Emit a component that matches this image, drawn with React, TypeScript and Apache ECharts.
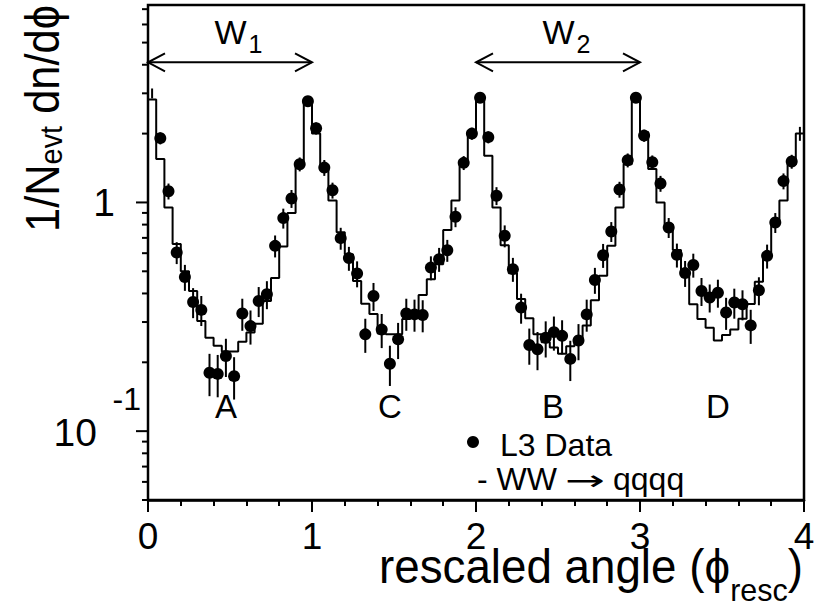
import React, { useEffect, useRef } from "react";
import * as echarts from "echarts";

const FONT = "'Liberation Sans', Arial, Helvetica, sans-serif";
const ARROW_FONT = "'DejaVu Sans', sans-serif";

// histogram binning of the rescaled angle (0..4, 80 bins)
const BIN_WIDTH = 0.05;

// MC prediction WW -> qqqq (histogram level per bin)
const mcValues = [
  2.82, 1.55, 0.95, 0.658, 0.5, 0.41, 0.303, 0.256, 0.236, 0.223,
  0.223, 0.246, 0.27, 0.295, 0.371, 0.467, 0.642, 0.9, 1.47, 2.82,
  2.0, 1.43, 1.02, 0.74, 0.594, 0.454, 0.361, 0.325, 0.267, 0.265,
  0.265, 0.309, 0.33, 0.394, 0.462, 0.537, 0.757, 1.02, 1.47, 2.0,
  2.82, 1.6, 0.95, 0.65, 0.49, 0.378, 0.312, 0.265, 0.245, 0.232,
  0.218, 0.235, 0.252, 0.29, 0.374, 0.478, 0.647, 0.95, 1.47, 2.82,
  2.03, 1.4, 1.0, 0.8, 0.62, 0.48, 0.359, 0.309, 0.283, 0.249,
  0.263, 0.278, 0.31, 0.36, 0.45, 0.58, 0.82, 1.02, 1.47, 2.0,
];

// L3 data per bin
const dataValues = [
  3.0, 1.91, 1.12, 0.604, 0.472, 0.367, 0.339, 0.18, 0.178, 0.213,
  0.174, 0.327, 0.288, 0.371, 0.397, 0.646, 0.854, 1.04, 1.47, 2.77,
  2.11, 1.42, 1.13, 0.698, 0.571, 0.489, 0.265, 0.39, 0.278, 0.197,
  0.252, 0.327, 0.324, 0.322, 0.519, 0.565, 0.618, 0.866, 1.49, 2.0,
  2.87, 1.93, 1.07, 0.715, 0.511, 0.347, 0.238, 0.228, 0.256, 0.271,
  0.261, 0.207, 0.249, 0.324, 0.458, 0.588, 0.746, 1.14, 1.53, 2.87,
  1.96, 1.5, 1.21, 0.777, 0.59, 0.491, 0.533, 0.41, 0.384, 0.403,
  0.33, 0.365, 0.359, 0.29, 0.413, 0.584, 0.817, 1.24, 1.51, 2.0,
];

// relative statistical errors of the data points
const relErrors = [
  0.05, 0.06, 0.08, 0.11, 0.13, 0.15, 0.15, 0.21, 0.21, 0.19,
  0.21, 0.16, 0.17, 0.15, 0.14, 0.11, 0.1, 0.09, 0.07, 0.05,
  0.06, 0.08, 0.08, 0.11, 0.12, 0.13, 0.17, 0.14, 0.17, 0.2,
  0.18, 0.16, 0.16, 0.16, 0.12, 0.12, 0.11, 0.1, 0.07, 0.06,
  0.05, 0.06, 0.09, 0.11, 0.12, 0.15, 0.18, 0.19, 0.18, 0.17,
  0.17, 0.2, 0.18, 0.16, 0.13, 0.12, 0.1, 0.08, 0.07, 0.05,
  0.06, 0.07, 0.08, 0.1, 0.12, 0.13, 0.12, 0.14, 0.14, 0.14,
  0.16, 0.15, 0.15, 0.17, 0.14, 0.12, 0.1, 0.08, 0.07, 0.07,
];

// bins whose marker is not drawn (only the error bar shows)
const noMarkerBins = [0, 79];

// axes
const xMin = 0;
const xMax = 4;
const yMin = 0.05;
const yMax = 7.3;
const xTickLabels = ["0", "1", "2", "3", "4"];
const yMajorTicks = [0.1, 1];
const yTickMain = ["10", "1"];
const yTickSup = ["-1", ""];
const yMinorTicks = [
  0.05, 0.06, 0.07, 0.08, 0.09, 0.2, 0.3, 0.4, 0.5, 0.6, 0.7, 0.8, 0.9, 2, 3, 4, 5, 6, 7,
];

// annotations
const regionNames = ["A", "C", "B", "D"];
const regionX = [0.475, 1.475, 2.47, 3.475];
const regionY = 0.128;

const arrowFrom = [0, 2];
const arrowTo = [1, 3];
const arrowY = 4.1;
const arrowNames = ["1", "2"];
const arrowLabelX = [0.405, 2.405];
const arrowLabelY = 5.59;

const legendData = "L3 Data";
const legendMcParts = ["- WW", "\u2192", "qqqq"];

export default function App() {
  const ref = useRef<HTMLDivElement>(null);

  useEffect(() => {
    const el = ref.current as HTMLDivElement;
    const chart = echarts.init(el, null, { renderer: "svg" });

    const canvas = document.createElement("canvas");
    const ctx = canvas.getContext("2d") as CanvasRenderingContext2D;
    const tw = (t: string, s: number, f: string = FONT) => {
      ctx.font = `${s}px ${f}`;
      return ctx.measureText(t).width;
    };
    const mid = (baseline: number, size: number) => baseline - 0.347 * size;
    const txt = (
      x: number,
      y: number,
      text: string,
      size: number,
      align: string = "left",
      family: string = FONT
    ) => ({
      type: "text",
      x,
      y,
      silent: true,
      style: {
        text,
        fontSize: size,
        fontFamily: family,
        fill: "#000",
        align,
        textAlign: align,
        verticalAlign: "middle",
        textVerticalAlign: "middle",
      },
    });

    const n = mcValues.length;
    const binCenters = mcValues.map((_, i) => (i + 0.5) * BIN_WIDTH);
    const histData = mcValues
      .map((v, i) => [i * BIN_WIDTH, v])
      .concat([[n * BIN_WIDTH, mcValues[n - 1]]]);
    const markerData = dataValues
      .map((v, i) => [binCenters[i], v])
      .filter((_, i) => noMarkerBins.indexOf(i) < 0);
    const errData = dataValues.map((v, i) => [binCenters[i], v, relErrors[i]]);
    const yTickData = [
      ...yMajorTicks.map((v) => [0, v, 1]),
      ...yMinorTicks.map((v) => [0, v, 0]),
    ];
    const yLabelData = yMajorTicks.map((v, i) => [0, v, i]);
    const regionData = regionX.map((x, i) => [x, regionY, i]);
    const arrowData = arrowFrom.map((x, i) => [x, arrowY, i, arrowTo[i], arrowLabelX[i], arrowLabelY]);

    // x title
    const XM = 48, XS = 32;
    const xa = tw("rescaled angle (\u03d5", XM);
    const xb = tw("resc", XS);
    const xc = tw(")", XM);
    const xScale = 424 / (xa + xb + xc);

    // y title
    const YM = 48, YS = 32;
    const ya = tw("1/N", YM);
    const yb = tw("evt", YS);
    const yc = tw(" dn/d\u03d5", YM);
    const yScale = 227 / (ya + yb + yc);

    // legend arrow stretched to the reference width
    const LF = 32;
    const arrowW = tw(legendMcParts[1], 28, ARROW_FONT);
    const arrowScale = 40 / arrowW;

    const option: any = {
      animation: false,
      backgroundColor: "#fff",
      grid: {
        left: 148,
        right: 10,
        top: 5,
        bottom: 113,
        show: true,
        borderColor: "#000",
        borderWidth: 2.5,
        backgroundColor: "transparent",
        containLabel: false,
        outerBoundsMode: "none",
      },
      xAxis: {
        type: "value",
        min: xMin,
        max: xMax,
        interval: 1,
        splitLine: { show: false },
        axisLine: { show: true, lineStyle: { color: "#000", width: 2.5 } },
        axisTick: { show: true, inside: false, length: 12, lineStyle: { color: "#000", width: 2 } },
        minorTick: { show: true, splitNumber: 5, length: 6, lineStyle: { color: "#000", width: 2 } },
        minorSplitLine: { show: false },
        axisLabel: {
          show: true,
          margin: 18,
          fontSize: 37,
          fontFamily: FONT,
          color: "#000",
          formatter: (v: number) => xTickLabels[Math.round(v)] ?? "",
        },
      },
      yAxis: {
        type: "log",
        logBase: 10,
        min: yMin,
        max: yMax,
        splitLine: { show: false },
        axisLine: { show: false },
        axisTick: { show: false },
        minorTick: { show: false },
        axisLabel: { show: false },
      },
      series: [
        {
          type: "line",
          name: "WW \u2192 qqqq",
          data: histData,
          step: "end",
          symbol: "none",
          showSymbol: false,
          silent: true,
          z: 2,
          lineStyle: { color: "#000", width: 2, opacity: 1 },
        },
        {
          type: "custom",
          name: "errors",
          data: errData,
          clip: false,
          silent: true,
          z: 3,
          renderItem: (params: any, api: any) => {
            const x = api.value(0);
            const v = api.value(1);
            const e = api.value(2);
            const hi = api.coord([x, v * (1 + e)]);
            const lo = api.coord([x, v * (1 - e)]);
            return {
              type: "line",
              shape: { x1: hi[0], y1: hi[1], x2: lo[0], y2: lo[1] },
              style: { stroke: "#000", lineWidth: 2 },
            };
          },
        },
        {
          type: "scatter",
          name: "L3 Data",
          data: markerData,
          symbol: "circle",
          symbolSize: 12,
          silent: true,
          z: 4,
          itemStyle: { color: "#000", opacity: 1 },
        },
        {
          type: "custom",
          name: "yticks",
          data: yTickData,
          clip: false,
          silent: true,
          z: 5,
          renderItem: (params: any, api: any) => {
            const v = api.value(1);
            const major = api.value(2) === 1;
            const p = api.coord([xMin, v]);
            const len = major ? 12 : 6;
            return {
              type: "line",
              shape: { x1: p[0] - len, y1: p[1], x2: p[0], y2: p[1] },
              style: { stroke: "#000", lineWidth: 2 },
            };
          },
        },
        {
          type: "custom",
          name: "ylabels",
          data: yLabelData,
          clip: false,
          silent: true,
          z: 5,
          renderItem: (params: any, api: any) => {
            const v = api.value(1);
            const i = api.value(2);
            const p = api.coord([xMin, v]);
            const sup = yTickSup[i];
            const children: any[] = [];
            if (sup) {
              children.push(txt(p[0] - 51, p[1] + 1.5, yTickMain[i], 39, "right"));
              children.push(txt(p[0] - 7, p[1] - 32.5, sup, 32, "right"));
            } else {
              children.push(txt(p[0] - 33, p[1], yTickMain[i], 39, "right"));
            }
            return { type: "group", children };
          },
        },
        {
          type: "custom",
          name: "regions",
          data: regionData,
          clip: false,
          silent: true,
          z: 5,
          renderItem: (params: any, api: any) => {
            const p = api.coord([api.value(0), api.value(1)]);
            return txt(p[0], p[1], regionNames[api.value(2)], 33, "center");
          },
        },
        {
          type: "custom",
          name: "arrows",
          data: arrowData,
          clip: false,
          silent: true,
          z: 5,
          renderItem: (params: any, api: any) => {
            const a = api.coord([api.value(0), api.value(1)]);
            const b = api.coord([api.value(3), api.value(1)]);
            const l = api.coord([api.value(4), api.value(5)]);
            const i = api.value(2);
            const wW = tw("W", 34);
            const st = { stroke: "#000", lineWidth: 2, fill: "none" };
            return {
              type: "group",
              children: [
                { type: "line", shape: { x1: a[0], y1: a[1], x2: b[0], y2: b[1] }, style: st },
                {
                  type: "polyline",
                  shape: { points: [[a[0] + 17, a[1] - 9], [a[0], a[1]], [a[0] + 17, a[1] + 9]] },
                  style: st,
                },
                {
                  type: "polyline",
                  shape: { points: [[b[0] - 17, b[1] - 9], [b[0], b[1]], [b[0] - 17, b[1] + 9]] },
                  style: st,
                },
                txt(l[0], l[1], "W", 34, "left"),
                txt(l[0] + wW + 2, l[1] + 12.5, arrowNames[i], 25, "left"),
              ],
            };
          },
        },
      ],
      graphic: {
        elements: [
          {
            type: "group",
            x: 379,
            y: 0,
            scaleX: xScale,
            children: [
              txt(0, mid(583, XM), "rescaled angle (\u03d5", XM),
              txt(xa, mid(601, XS), "resc", XS),
              txt(xa + xb, mid(583, XM), ")", XM),
            ],
          },
          {
            type: "group",
            x: 59,
            y: 232,
            rotation: Math.PI / 2,
            scaleX: yScale,
            children: [
              txt(0, mid(0, YM), "1/N", YM),
              txt(ya, mid(3, YS), "evt", YS),
              txt(ya + yb, mid(0, YM), " dn/d\u03d5", YM),
            ],
          },
          {
            type: "circle",
            shape: { cx: 473, cy: 442, r: 6 },
            style: { fill: "#000" },
            silent: true,
          },
          txt(500, 444.5, legendData, LF),
          txt(477, 478.5, legendMcParts[0], LF),
          {
            type: "group",
            x: 565,
            y: 0,
            scaleX: arrowScale,
            children: [txt(0, 480, legendMcParts[1], 28, "left", ARROW_FONT)],
          },
          txt(613, 478.5, legendMcParts[2], LF),
        ],
      },
    };

    chart.setOption(option);
    return () => {
      chart.dispose();
    };
  }, []);

  return (
    <div
      ref={ref}
      style={{ position: "fixed", left: 0, top: 0, width: 814, height: 613, background: "#fff" }}
    />
  );
}
